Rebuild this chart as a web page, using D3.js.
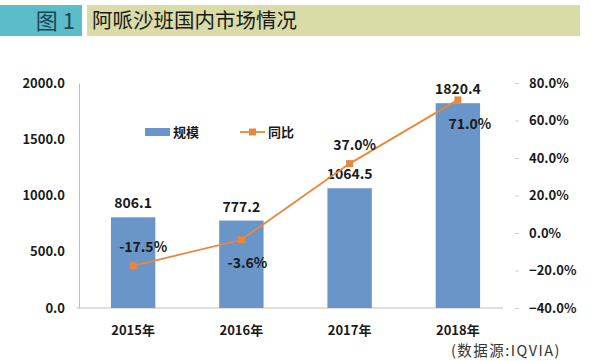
<!DOCTYPE html>
<html><head><meta charset="utf-8">
<script src="https://cdn.jsdelivr.net/npm/d3@7"></script>
<style>body{margin:0;background:#fff;}svg{display:block;}</style>
</head><body>
<svg id="c" width="600" height="361"></svg>
<script>
const categories = ["2015年","2016年","2017年","2018年"];
const scaleValues = [806.1, 777.2, 1064.5, 1820.4];
const yoyValues = [-17.5, -3.6, 37.0, 71.0];
const leftTicks = [0, 500, 1000, 1500, 2000];
const rightTicks = [-40, -20, 0, 20, 40, 60, 80];
const seriesNames = ["规模", "同比"];
const titleTag = "图 1";
const titleText = "阿哌沙班国内市场情况";
const sourceText = "(数据源:IQVIA)";

const svg = d3.select("#c");
const font = "'Noto Sans CJK SC', 'Noto Sans', sans-serif";
const barColor = "#6A95C9", lineColor = "#E8883C";

// title bar
svg.append("rect").attr("x",0).attr("y",5).attr("width",82).attr("height",31).attr("fill","#5DBCC9");
svg.append("rect").attr("x",87).attr("y",5).attr("width",493).attr("height",31).attr("fill","#D9DCA7");
svg.append("text").attr("x",75).attr("y",29).attr("text-anchor","end").attr("font-family",font)
  .attr("font-size",22).attr("fill","#1D4656").text(titleTag);
svg.append("text").attr("x",92).attr("y",28).attr("font-family",font)
  .attr("font-size",20.5).attr("fill","#1a1a1a").text(titleText);

const x = d3.scaleBand().domain(categories).range([79, 512]).paddingInner(0.59).paddingOuter(0.295);
const yL = d3.scaleLinear().domain([0, 2000]).range([308, 83]);
const yR = d3.scaleLinear().domain([-40, 80]).range([308, 83]);

// axes
const axL = svg.append("g").attr("transform","translate(79,0)")
  .call(d3.axisLeft(yL).tickValues(leftTicks).tickFormat(d3.format(".1f")).tickSize(0).tickPadding(14));
axL.select(".domain").attr("stroke","#bfbfbf");
const axR = svg.append("g").attr("transform","translate(517,0)")
  .call(d3.axisRight(yR).tickValues(rightTicks).tickFormat(d=>d3.format(".1f")(d)+"%").tickSize(4).tickPadding(8));
axR.select(".domain").remove();
axR.selectAll("line").attr("stroke","#cfcfcf");
axR.selectAll(".tick line").attr("transform","translate(-2,0)");
[axL, axR].forEach(a => a.selectAll("text").attr("font-family",font).attr("font-size",13)
  .attr("font-weight","bold").attr("fill","#1a1a1a"));

// baseline
svg.append("line").attr("x1",77).attr("x2",503).attr("y1",308).attr("y2",308).attr("stroke","#bfbfbf");

// bars
svg.selectAll(".bar").data(scaleValues).enter().append("rect")
  .attr("x",(d,i)=>x(categories[i])).attr("width",x.bandwidth())
  .attr("y",d=>yL(d)).attr("height",d=>308-yL(d)).attr("fill",barColor);

// bar labels
svg.selectAll(".bl").data(scaleValues).enter().append("text")
  .attr("x",(d,i)=>x(categories[i])+x.bandwidth()/2).attr("y",d=>yL(d)-9)
  .attr("text-anchor","middle").attr("font-family",font).attr("font-size",14).attr("font-weight","bold")
  .attr("fill","#1a1a1a").text(d=>d.toFixed(1));

// x labels
svg.selectAll(".xl").data(categories).enter().append("text")
  .attr("x",d=>x(d)+x.bandwidth()/2).attr("y",335).attr("text-anchor","middle")
  .attr("font-family",font).attr("font-size",13).attr("font-weight","bold").attr("fill","#1a1a1a").text(d=>d);

// line
const cx = i => x(categories[i]) + x.bandwidth()/2;
svg.append("path").datum(yoyValues)
  .attr("d", d3.line().x((d,i)=>cx(i)).y(d=>yR(d)))
  .attr("fill","none").attr("stroke",lineColor).attr("stroke-width",1.8);
svg.selectAll(".pt").data(yoyValues).enter().append("rect")
  .attr("x",(d,i)=>cx(i)-3.5).attr("y",d=>yR(d)-3.5).attr("width",7).attr("height",7).attr("fill",lineColor);

// line labels
const lblOff = [[10,-14],[6,28],[5,-14],[12,29]];
svg.selectAll(".ll").data(yoyValues).enter().append("text")
  .attr("x",(d,i)=>cx(i)+lblOff[i][0]).attr("y",(d,i)=>yR(d)+lblOff[i][1])
  .attr("text-anchor","middle").attr("font-family",font).attr("font-size",14).attr("font-weight","bold")
  .attr("fill","#1a1a1a").text(d=>d.toFixed(1)+"%");

// legend
svg.append("rect").attr("x",145).attr("y",128).attr("width",25).attr("height",8).attr("fill",barColor);
svg.append("text").attr("x",173).attr("y",137).attr("font-family",font).attr("font-size",13)
  .attr("font-weight","bold").attr("fill","#1a1a1a").text(seriesNames[0]);
svg.append("line").attr("x1",240).attr("x2",265).attr("y1",132).attr("y2",132).attr("stroke",lineColor).attr("stroke-width",1.8);
svg.append("rect").attr("x",249).attr("y",128.5).attr("width",7).attr("height",7).attr("fill",lineColor);
svg.append("text").attr("x",268).attr("y",137).attr("font-family",font).attr("font-size",13)
  .attr("font-weight","bold").attr("fill","#1a1a1a").text(seriesNames[1]);

// source
svg.append("text").attr("x",561).attr("y",356).attr("text-anchor","end").attr("font-family",font)
  .attr("font-size",14.5).attr("letter-spacing",1.5).attr("fill","#333").text(sourceText);
</script>
</body></html>
